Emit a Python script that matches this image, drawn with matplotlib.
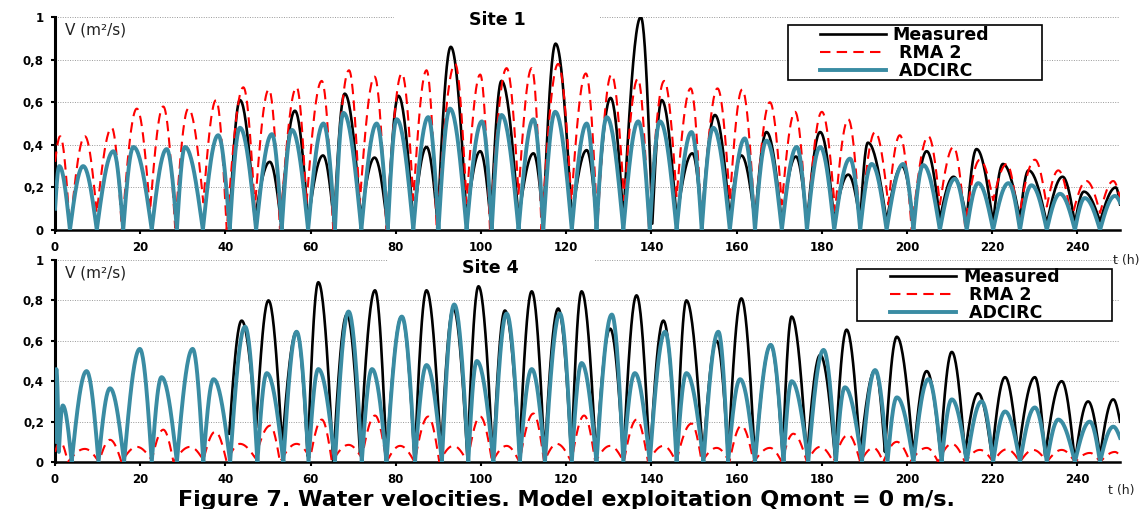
import numpy as np
import matplotlib.pyplot as plt
from matplotlib.ticker import FuncFormatter
from matplotlib.patches import Rectangle

plt.rcParams['font.family'] = ['DejaVu Sans']

# ---- data: turning points (time in h, V) ----
# Site 1
s1_meas_t = [41.0, 43.4, 46.9, 50.4, 53.0, 56.3, 59.4, 62.9, 65.5, 68.0, 71.8, 75.0, 78.0, 80.6,
             84.1, 87.2, 89.8, 92.9, 96.6, 99.8, 102.3, 104.8, 108.8, 112.3, 114.6, 117.5, 121.3,
             124.8, 127.1, 130.4, 133.4, 137.5, 140.2, 142.4, 145.9, 149.6, 151.8, 154.9, 158.4,
             161.1, 164.3, 167.0, 170.6, 173.9, 176.5, 179.6, 182.9, 186.2, 189.0, 190.8, 195.2,
             198.8, 201.5, 204.6, 207.7, 210.9, 214.0, 216.3, 220.2, 222.5, 226.5, 228.5, 232.8,
             236.5, 239.4, 241.5, 245.3, 249.0, 250.0]
s1_meas_v = [0.05, 0.61, 0.05, 0.32, 0.04, 0.56, 0.04, 0.35, 0.03, 0.64, 0.05, 0.34, 0.02, 0.63,
             0.03, 0.39, 0.03, 0.86, 0.05, 0.37, 0.03, 0.70, 0.05, 0.36, 0.03, 0.875, 0.05,
             0.375, 0.04, 0.62, 0.05, 1.0, 0.03, 0.61, 0.05, 0.36, 0.04, 0.54, 0.05,
             0.35, 0.04, 0.46, 0.03, 0.345, 0.03, 0.46, 0.04, 0.26, 0.04, 0.41, 0.04,
             0.30, 0.04, 0.37, 0.05, 0.25, 0.05, 0.38, 0.03, 0.31, 0.05, 0.28, 0.03,
             0.25, 0.03, 0.18, 0.04, 0.20, 0.12]

s1_rma_t = [0.0, 1.2, 3.5, 7.0, 9.8, 13.3, 15.7, 19.2, 22.3, 25.4, 28.2, 31.3, 34.8, 37.8, 40.3,
            44.2, 46.9, 50.2, 52.8, 56.7, 59.0, 62.6, 65.3, 69.0, 71.5, 75.0, 77.8, 81.4, 84.1,
            87.2, 89.6, 93.9, 96.6, 99.8, 102.1, 106.0, 108.8, 111.9, 114.2, 118.1, 121.2, 124.6,
            127.3, 130.6, 133.6, 136.8, 139.4, 143.0, 145.9, 149.2, 151.8, 155.5, 158.4, 161.3,
            164.3, 167.8, 170.6, 173.7, 176.5, 180.0, 183.1, 186.2, 189.0, 192.5, 195.6, 198.3,
            201.1, 205.0, 207.7, 210.9, 213.6, 217.1, 220.2, 223.4, 226.1, 230.0, 232.8, 235.5,
            238.6, 242.1, 245.3, 248.4, 250.0]
s1_rma_v = [0.32, 0.44, 0.0, 0.44, 0.08, 0.48, 0.0, 0.57, 0.09, 0.58, 0.01, 0.57, 0.13, 0.61, 0.0,
            0.67, 0.10, 0.66, 0.0, 0.67, 0.12, 0.70, 0.0, 0.75, 0.12, 0.72, 0.0, 0.735, 0.14,
            0.75, 0.0, 0.78, 0.125, 0.73, 0.0, 0.76, 0.17, 0.76, 0.0, 0.78, 0.14, 0.735,
            0.02, 0.73, 0.14, 0.71, 0.01, 0.70, 0.155, 0.665, 0.01, 0.665, 0.14, 0.66,
            0.03, 0.60, 0.12, 0.555, 0.0, 0.555, 0.09, 0.52, 0.0, 0.46, 0.12, 0.445,
            0.0, 0.44, 0.12, 0.39, 0.02, 0.33, 0.14, 0.31, 0.04, 0.33, 0.11, 0.28,
            0.05, 0.23, 0.08, 0.23, 0.15]

s1_adc_t = [0.0, 1.0, 3.5, 6.6, 9.8, 13.7, 16.0, 18.4, 22.7, 26.2, 28.6, 30.5, 34.7, 38.3, 41.0,
            43.4, 47.2, 50.9, 53.2, 55.6, 59.4, 63.0, 65.7, 67.7, 71.9, 75.5, 78.1, 80.2, 84.1,
            87.6, 90.0, 92.7, 96.6, 100.2, 102.5, 104.8, 108.8, 112.3, 114.6, 117.4, 121.3, 124.8,
            127.1, 129.5, 133.4, 136.9, 139.6, 142.0, 145.9, 149.4, 151.8, 154.5, 158.4, 161.9,
            164.3, 167.0, 170.6, 174.1, 176.5, 179.6, 182.9, 186.6, 189.0, 191.7, 195.2, 199.1,
            201.5, 203.8, 207.7, 211.2, 214.0, 216.7, 220.2, 223.8, 226.5, 229.2, 232.8, 235.9,
            239.4, 241.7, 245.3, 248.8, 250.0]
s1_adc_v = [0.10, 0.30, 0.0, 0.30, 0.0, 0.37, 0.0, 0.39, 0.0, 0.38, 0.0, 0.39, 0.0, 0.445, 0.0,
            0.48, 0.0, 0.45, 0.0, 0.47, 0.0, 0.50, 0.0, 0.55, 0.0, 0.50, 0.0, 0.52, 0.0,
            0.53, 0.0, 0.57, 0.0, 0.51, 0.0, 0.54, 0.0, 0.52, 0.0, 0.555, 0.0, 0.50,
            0.0, 0.53, 0.0, 0.51, 0.0, 0.51, 0.0, 0.46, 0.0, 0.48, 0.0, 0.43,
            0.0, 0.42, 0.0, 0.39, 0.0, 0.39, 0.0, 0.335, 0.0, 0.31, 0.0, 0.31,
            0.0, 0.305, 0.0, 0.24, 0.0, 0.22, 0.0, 0.22, 0.0, 0.21, 0.0, 0.17,
            0.0, 0.15, 0.0, 0.16, 0.13]

# Site 4
s4_meas_t = [40.9, 43.8, 47.2, 50.1, 53.3, 56.7, 59.3, 61.8, 65.3, 68.5, 71.6, 75.1, 77.8, 81.4,
             84.4, 87.2, 90.6, 93.5, 96.8, 99.4, 102.8, 105.6, 109.0, 111.9, 114.9, 118.1, 121.2,
             123.6, 127.0, 130.3, 133.4, 136.5, 139.6, 142.8, 145.9, 148.2, 152.1, 155.3, 158.0,
             161.1, 164.3, 168.0, 170.8, 172.9, 176.5, 179.6, 183.1, 185.8, 189.0, 192.5, 194.8,
             197.6, 201.5, 204.6, 207.8, 210.5, 213.6, 216.7, 219.9, 223.0, 226.1, 230.0, 232.4,
             236.3, 239.4, 242.5, 245.3, 248.4, 250.0]
s4_meas_v = [0.14, 0.70, 0.17, 0.80, 0.08, 0.645, 0.03, 0.89, 0.0, 0.73, 0.04, 0.85, 0.03, 0.72,
             0.0, 0.85, 0.04, 0.76, 0.02, 0.87, 0.0, 0.75, 0.04, 0.845, 0.02, 0.76, 0.02,
             0.845, 0.02, 0.66, 0.02, 0.825, 0.0, 0.70, 0.02, 0.80, 0.02, 0.60, 0.02,
             0.81, 0.0, 0.58, 0.03, 0.72, 0.02, 0.53, 0.02, 0.655, 0.04, 0.455, 0.05,
             0.62, 0.03, 0.45, 0.05, 0.545, 0.04, 0.34, 0.03, 0.42, 0.04, 0.42, 0.03,
             0.40, 0.0, 0.30, 0.03, 0.31, 0.20]

s4_rma_t = [0.0, 1.2, 3.0, 7.0, 10.3, 12.9, 15.6, 19.2, 22.7, 25.4, 27.8, 31.7, 34.8, 37.6, 40.3,
            43.4, 47.0, 50.5, 52.8, 56.7, 59.9, 62.6, 65.0, 68.9, 72.0, 75.1, 77.8, 81.0, 84.4,
            87.6, 90.2, 93.5, 96.8, 99.8, 102.6, 106.0, 109.0, 112.3, 114.8, 117.8, 121.2, 124.2,
            126.8, 130.3, 133.5, 136.5, 139.2, 142.8, 145.8, 149.4, 151.8, 155.3, 158.3, 161.1,
            164.0, 167.8, 170.6, 173.3, 176.5, 179.6, 182.7, 186.2, 189.0, 192.1, 194.4, 197.6,
            200.7, 204.6, 207.3, 210.5, 213.6, 217.1, 220.2, 223.4, 226.5, 229.6, 232.8, 236.3,
            239.4, 242.9, 245.3, 248.8, 250.0]
s4_rma_v = [0.05, 0.10, 0.0, 0.065, 0.0, 0.11, 0.0, 0.075, 0.01, 0.16, 0.0, 0.075, 0.01, 0.15, 0.0,
            0.09, 0.02, 0.18, 0.0, 0.09, 0.02, 0.21, 0.0, 0.085, 0.02, 0.23, 0.0, 0.08, 0.0,
            0.225, 0.0, 0.08, 0.0, 0.225, 0.0, 0.08, 0.0, 0.24, 0.0, 0.09, 0.0, 0.23,
            0.0, 0.08, 0.0, 0.21, 0.0, 0.08, 0.0, 0.19, 0.0, 0.07, 0.0, 0.18,
            0.0, 0.07, 0.0, 0.14, 0.0, 0.075, 0.0, 0.135, 0.0, 0.07, 0.0, 0.10,
            0.0, 0.07, 0.0, 0.09, 0.0, 0.06, 0.0, 0.063, 0.0, 0.06, 0.0, 0.06,
            0.0, 0.045, 0.0, 0.05, 0.03]

s4_adc_t = [0.0, 0.3, 0.9, 1.8, 3.9, 7.4, 10.2, 12.9, 16.2, 19.9, 22.7, 25.0, 28.6, 32.3, 34.8,
            37.2, 41.1, 44.6, 47.5, 49.7, 53.6, 56.7, 59.5, 61.8, 65.7, 68.9, 72.0, 74.4, 77.8,
            81.4, 84.5, 87.2, 90.8, 93.7, 97.0, 99.0, 102.9, 106.0, 109.1, 111.9, 115.0, 118.5,
            121.3, 123.6, 127.1, 130.7, 133.4, 136.1, 139.6, 143.2, 145.9, 148.2, 152.2, 155.7,
            158.0, 160.8, 164.3, 168.0, 171.0, 172.9, 176.8, 180.4, 183.3, 185.4, 189.4, 192.5,
            195.4, 197.6, 201.5, 205.0, 208.1, 210.5, 214.0, 217.5, 220.2, 223.0, 226.5, 230.0,
            232.8, 235.5, 239.4, 242.9, 245.3, 248.4, 250.0]
s4_adc_v = [0.10, 0.46, 0.05, 0.28, 0.0, 0.45, 0.0, 0.365, 0.0, 0.56, 0.0, 0.42, 0.0, 0.56, 0.0,
            0.41, 0.0, 0.67, 0.0, 0.44, 0.0, 0.645, 0.0, 0.46, 0.0, 0.745, 0.0, 0.46, 0.0,
            0.72, 0.0, 0.48, 0.0, 0.78, 0.0, 0.50, 0.0, 0.735, 0.0, 0.46, 0.0, 0.735,
            0.0, 0.49, 0.0, 0.73, 0.0, 0.44, 0.0, 0.645, 0.0, 0.44, 0.0, 0.645,
            0.0, 0.41, 0.0, 0.58, 0.0, 0.40, 0.0, 0.555, 0.0, 0.37, 0.0, 0.455,
            0.0, 0.32, 0.0, 0.41, 0.0, 0.31, 0.0, 0.30, 0.0, 0.25, 0.0, 0.27,
            0.0, 0.21, 0.0, 0.20, 0.0, 0.175, 0.12]

x_ticks = list(range(0, 250, 20))
y_ticks = [0, 0.2, 0.4, 0.6, 0.8, 1.0]

C_MEAS = 'black'
C_RMA = '#ff0000'
C_ADC = '#3a8ca3'


def arcs(t_ext, v_ext, n=24):
    # join successive turning points with |sin|-like arcs
    tt, vv = [t_ext[0]], [v_ext[0]]
    s = np.linspace(0, 1, n)[1:]
    for i in range(len(t_ext) - 1):
        t0, t1 = t_ext[i], t_ext[i + 1]
        v0, v1 = v_ext[i], v_ext[i + 1]
        if v1 >= v0:
            v = v0 + (v1 - v0) * np.sin(np.pi / 2 * s)
        else:
            v = v1 + (v0 - v1) * np.cos(np.pi / 2 * s)
        tt.extend(t0 + (t1 - t0) * s)
        vv.extend(v)
    return np.array(tt), np.array(vv)


def panel(ax, title, title_xy, vlab_y, meas, rma, adc, leg_box, leg_anchor):
    ax.plot(*arcs(*meas), color=C_MEAS, lw=1.9, label='Measured', zorder=3)
    ax.plot(*arcs(*rma), color=C_RMA, lw=1.5, dashes=(5, 3), label=' RMA 2', zorder=4)
    ax.plot(*arcs(*adc), color=C_ADC, lw=2.8, label=' ADCIRC', zorder=5)
    ax.set_xlim(0, 250)
    ax.set_ylim(0, 1)
    ax.set_xticks(x_ticks)
    ax.set_yticks(y_ticks)
    ax.yaxis.set_major_formatter(FuncFormatter(lambda v, p: ('%g' % round(v, 2)).replace('.', ',')))
    ax.grid(axis='y', color='#999999', ls=(0, (1, 1.5)), lw=0.7, zorder=0)
    for s in ['top', 'right']:
        ax.spines[s].set_visible(False)
    ax.spines['left'].set_linewidth(2.2)
    ax.spines['bottom'].set_linewidth(1.8)
    ax.tick_params(axis='both', length=3, width=1.5, labelsize=8.5, direction='out')
    ax.tick_params(axis='x', pad=5)
    ax.tick_params(axis='y', pad=5)
    for lab in ax.get_xticklabels() + ax.get_yticklabels():
        lab.set_fontweight('bold')
    ax.text(0.0094, vlab_y, 'V (m²/s)', transform=ax.transAxes, fontsize=11,
            va='center', ha='left', color='#222222')
    ax.text(title_xy[0], title_xy[1], '            ' + title + '            ',
            transform=ax.transAxes, fontsize=12.5, fontweight='bold', ha='center', va='center',
            bbox=dict(boxstyle='square,pad=0.15', fc='white', ec='none'), zorder=6)
    ax.add_patch(Rectangle(leg_box[:2], leg_box[2], leg_box[3], transform=ax.transAxes,
                           fc='white', ec='black', lw=1.2, zorder=6, clip_on=False))
    leg = ax.legend(loc='upper left', bbox_to_anchor=leg_anchor, borderaxespad=0, borderpad=0,
                    frameon=False, fontsize=12.5, handlelength=3.8, handletextpad=0.4,
                    labelspacing=0.0)
    leg.set_zorder(7)
    for t in leg.get_texts():
        t.set_fontweight('bold')


fig = plt.figure(figsize=(11.42, 5.09), dpi=100)
ax1 = fig.add_axes([0.0482, 0.5481, 0.9326, 0.4185])
ax2 = fig.add_axes([0.0482, 0.0923, 0.9326, 0.3969])

panel(ax1, 'Site 1', (0.415, 0.985), 0.939,
      (s1_meas_t, s1_meas_v), (s1_rma_t, s1_rma_v), (s1_adc_t, s1_adc_v),
      (0.688, 0.704, 0.239, 0.258), (0.718, 0.958))
panel(ax2, 'Site 4', (0.409, 0.960), 0.936,
      (s4_meas_t, s4_meas_v), (s4_rma_t, s4_rma_v), (s4_adc_t, s4_adc_v),
      (0.753, 0.698, 0.239, 0.257), (0.784, 0.960))

fig.text(0.9746, 0.489, 't (h)', fontsize=9, ha='left', va='center', color='#222222')
fig.text(0.970, 0.037, 't (h)', fontsize=9, ha='left', va='center', color='#222222')
fig.text(0.496, 1 - 506 / 509, 'Figure 7. Water velocities. Model exploitation Qmont = 0 m/s.',
         fontsize=16, fontweight='bold', ha='center', va='baseline')

fig.savefig('out.png', dpi=100)
